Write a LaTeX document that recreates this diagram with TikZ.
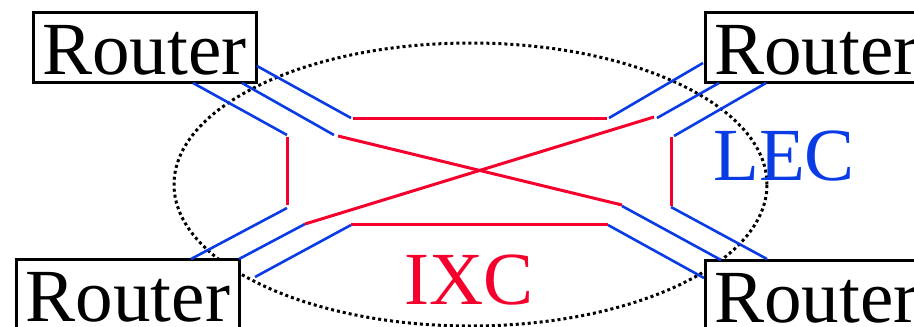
\documentclass[tikz,border=0pt]{standalone}
\usepackage{fontspec}
\setmainfont{Liberation Serif}
\definecolor{lecblue}{HTML}{0A3CE6}
\definecolor{ixcred}{HTML}{F5002D}
\begin{document}
\begin{tikzpicture}[x=1pt,y=-1pt,
  router/.style={draw=black,line width=3pt,fill=white,minimum width=223pt,minimum height=70pt,inner sep=0pt,text height=54pt,text depth=0pt,font=\fontsize{75}{75}\selectfont},
  bl/.style={draw=lecblue,line width=2.6pt},
  rd/.style={draw=ixcred,line width=3pt},
  lbl/.style={inner sep=0pt,anchor=base west,font=\fontsize{75}{75}\selectfont}]
\useasboundingbox (0,0) rectangle (914,327);
% ellipse
\draw[line width=3pt,dash pattern=on 3pt off 3pt] (470.5,184.5) ellipse [x radius=296.5pt, y radius=141.5pt];
% routers
\node[router] (tl) at (144.5,47) {Router};
\node[router] (tr) at (816.5,47) {Router};
\node[router] (bl) at (128,294) {Router};
\node[router] (br) at (816.5,295) {Router};
% attachment points
\coordinate (tl1) at (257,66);
\coordinate (tl2) at (242,83);
\coordinate (tl3) at (193,83);
\coordinate (tr1) at (703,63);
\coordinate (tr2) at (719,83);
\coordinate (tr3) at (766,83);
\coordinate (bl1) at (191,259);
\coordinate (bl2) at (239,259);
\coordinate (bl3) at (255,277);
\coordinate (br1) at (721,260);
\coordinate (br2) at (704,278);
\coordinate (br3) at (767,259);
% junctions (blue ends)
\coordinate (jA) at (351,118);
\coordinate (jB) at (334,135);
\coordinate (jC) at (287,135);
\coordinate (jD) at (609,118);
\coordinate (jE) at (657,118);
\coordinate (jF) at (674,136);
\coordinate (jG) at (287,208);
\coordinate (jH) at (305,224);
\coordinate (jI) at (351,225);
\coordinate (jJ) at (622,206);
\coordinate (jK) at (608,225);
\coordinate (jL) at (671,207);
% red ends
\coordinate (rA) at (353,118);
\coordinate (rA2) at (607,118);
\coordinate (rB) at (338,136);
\coordinate (rB2) at (622,205);
\coordinate (rC) at (287,137);
\coordinate (rC2) at (287,205);
\coordinate (rD) at (305,224);
\coordinate (rD2) at (654,117);
\coordinate (rE) at (671,137);
\coordinate (rE2) at (671,206);
\coordinate (rF) at (351,224);
\coordinate (rF2) at (608,224);
% blue lines
\draw[bl] (tl1) -- (jA);
\draw[bl] (tl2) -- (jB);
\draw[bl] (tl3) -- (jC);
\draw[bl] (tr1) -- (jD);
\draw[bl] (tr2) -- (jE);
\draw[bl] (tr3) -- (jF);
\draw[bl] (bl1) -- (jG);
\draw[bl] (bl2) -- (jH);
\draw[bl] (bl3) -- (jI);
\draw[bl] (br1) -- (jJ);
\draw[bl] (br2) -- (jK);
\draw[bl] (br3) -- (jL);
% red lines
\draw[rd] (rA) -- (rA2);
\draw[rd] (rB) -- (rB2);
\draw[rd] (rC) -- (rC2);
\draw[rd] (rD) -- (rD2);
\draw[rd] (rE) -- (rE2);
\draw[rd] (rF) -- (rF2);
% labels
\node[lbl,text=lecblue] (lec) at (713,180) {LEC};
\node[lbl,text=ixcred] (ixc) at (404,304) {IXC};
\end{tikzpicture}
\end{document}
